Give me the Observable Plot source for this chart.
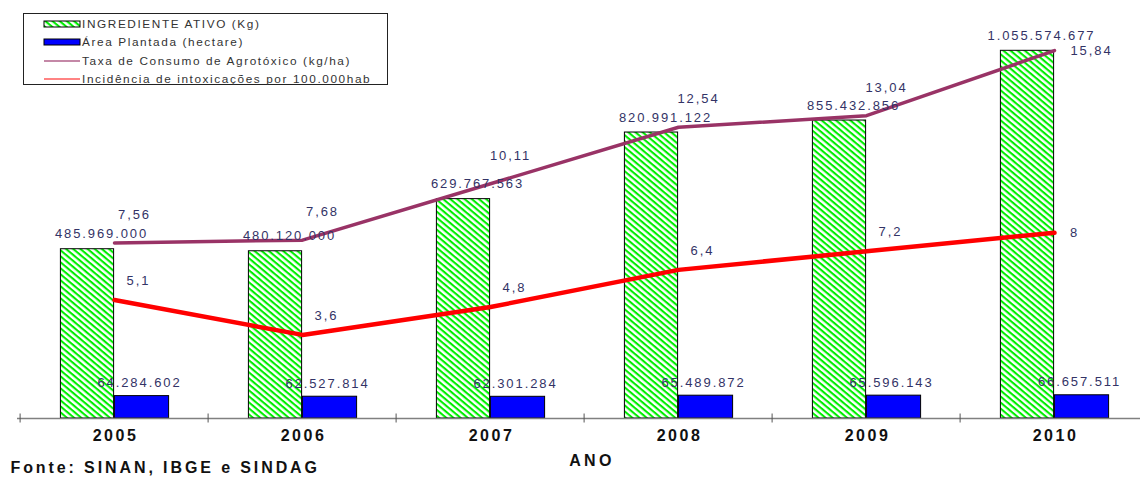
<!DOCTYPE html>
<html><head><meta charset="utf-8">
<script src="https://cdn.jsdelivr.net/npm/d3@7"></script>
<script src="https://cdn.jsdelivr.net/npm/@observablehq/plot@0.6"></script>
<style>
body{margin:0;background:#fff;font-family:"Liberation Sans",Arial,sans-serif}
#wrap{position:relative;width:1140px;height:478px;overflow:hidden}
#legend{position:absolute;left:23px;top:13px}
#legend text{letter-spacing:1.6px}
</style></head>
<body><div id="wrap"></div>
<script>
const years = ["2005", "2006", "2007", "2008", "2009", "2010"];
const ingrediente = [485969000, 480120000, 629767563, 820991122, 855432856, 1055574677];
const areaPlantada = [64284602, 62527814, 62301284, 65489872, 65596143, 66657511];
const taxaConsumo = [7.56, 7.68, 10.11, 12.54, 13.04, 15.84];
const incidencia = [5.1, 3.6, 4.8, 6.4, 7.2, 8];
const legendLabels = ["INGREDIENTE ATIVO (Kg)", "Área Plantada (hectare)", "Taxa de Consumo de Agrotóxico (kg/ha)", "Incidência de intoxicações por 100.000hab"];

const barMax = 1.2e9;   // left (bar) axis maximum
const lineMax = 18;     // right (line) axis maximum
const f = barMax / lineMax;

const pt = d3.formatLocale({decimal: ",", thousands: ".", grouping: [3], currency: ["", ""]});
const fmtInt = pt.format(",d");
const fmt2 = pt.format(",.2f");
const fmtG = pt.format("~g");

const rows = years.map((y, i) => ({year: y, ingr: ingrediente[i], area: areaPlantada[i], taxa: taxaConsumo[i], inc: incidencia[i]}));
const last = rows.length - 1;
const notLast = (d, i) => i < last;
const isLast = (d, i) => i === last;

const bw = 188.8;
const half = bw / 2;
const labelColor = "#333366";

const defsMark = () => {
  const ns = "http://www.w3.org/2000/svg";
  const defs = document.createElementNS(ns, "defs");
  defs.innerHTML = `<pattern id="hatch" patternUnits="userSpaceOnUse" width="4.6" height="4.6" patternTransform="rotate(40)"><rect width="4.6" height="4.6" fill="#fff"/><rect width="4.6" height="2.1" fill="#00ee00"/></pattern>`;
  return defs;
};

const chart = Plot.plot({
  width: 1140,
  height: 478,
  marginLeft: 17,
  marginRight: 0,
  marginTop: 0,
  marginBottom: 60,
  style: {fontFamily: "'Liberation Sans', Arial, sans-serif", background: "#fff"},
  x: {type: "band", domain: years, range: [17.5, 17.5 + 6 * bw], padding: 0, axis: null},
  y: {domain: [0, barMax], axis: null},
  marks: [
    defsMark,
    Plot.barY(rows, {x: "year", y: "ingr", fill: "url(#hatch)", stroke: "#000", strokeWidth: 1, insetLeft: half - 54, insetRight: half}),
    Plot.barY(rows, {x: "year", y: "area", fill: "#0000ff", stroke: "#000", strokeWidth: 1, insetLeft: half, insetRight: half - 55}),
    Plot.ruleY([0], {stroke: "#808080", strokeWidth: 1.5}),
    Plot.axisX({anchor: "bottom", tickSize: 9, dy: -4.5, dx: -half, tickFormat: () => "", label: null, stroke: "#555"}),
    Plot.line(rows, {x: "year", y: d => d.taxa * f, stroke: "#993366", strokeWidth: 3.5}),
    Plot.line(rows, {x: "year", y: d => d.inc * f, stroke: "#ff0000", strokeWidth: 4.5}),
    Plot.text(rows, {x: "year", y: "ingr", text: d => fmtInt(d.ingr), dx: -13, dy: -15, fontSize: 13, fill: labelColor}),
    Plot.text(rows, {x: "year", y: "area", text: d => fmtInt(d.area), dx: 25, dy: -13, fontSize: 13, fill: labelColor}),
    Plot.text(rows, {filter: notLast, x: "year", y: d => d.taxa * f, text: d => fmt2(d.taxa), dx: 20, dy: -28, fontSize: 13, fill: labelColor}),
    Plot.text(rows, {filter: notLast, x: "year", y: d => d.inc * f, text: d => fmtG(d.inc), dx: 24, dy: -19, fontSize: 13, fill: labelColor}),
    Plot.text(rows, {filter: isLast, x: "year", y: d => d.taxa * f, text: d => fmt2(d.taxa), dx: 37, dy: 0, fontSize: 13, fill: labelColor}),
    Plot.text(rows, {filter: isLast, x: "year", y: d => d.inc * f, text: d => fmtG(d.inc), dx: 20, dy: 0, fontSize: 13, fill: labelColor}),
    Plot.text(years, {x: d => d, frameAnchor: "bottom", dy: 22, text: d => d, fontSize: 16, fontWeight: "bold", fill: "#111", dx: 1}),
    Plot.text(["ANO"], {frameAnchor: "bottom", dy: 47, dx: 13, fontSize: 16, fontWeight: "bold", fill: "#111"}),
    Plot.text(["Fonte: SINAN, IBGE e SINDAG"], {frameAnchor: "bottom-left", textAnchor: "start", dy: 54, dx: -7, fontSize: 16, fontWeight: "bold", fill: "#111"})
  ]
});

// letter spacing of the text marks, in mark order
const spacing = [1.9, 1.9, 1.9, 1.9, 1.9, 1.9, 2.5, 3.3, 2.9];
chart.querySelectorAll('g[aria-label="text"]').forEach((g, i) => {
  if (spacing[i] != null) g.setAttribute("letter-spacing", spacing[i]);
});

const wrap = document.getElementById("wrap");
wrap.appendChild(chart);

// legend
const lg = d3.create("svg").attr("id", "legend").attr("width", 366).attr("height", 73)
  .style("font-family", "'Liberation Sans', Arial, sans-serif");
lg.append("rect").attr("x", 0.5).attr("y", 0.5).attr("width", 364).attr("height", 71).attr("fill", "#fff").attr("stroke", "#222");
const rowsY = [11, 29, 48, 66];
lg.append("rect").attr("x", 21).attr("y", rowsY[0] - 3).attr("width", 36).attr("height", 6).attr("fill", "url(#hatch)").attr("stroke", "#000");
lg.append("rect").attr("x", 21).attr("y", rowsY[1] - 3).attr("width", 36).attr("height", 6).attr("fill", "#0000ff").attr("stroke", "#000");
lg.append("line").attr("x1", 21).attr("x2", 57).attr("y1", rowsY[2]).attr("y2", rowsY[2]).attr("stroke", "#b0608a").attr("stroke-width", 1.3);
lg.append("line").attr("x1", 21).attr("x2", 57).attr("y1", rowsY[3]).attr("y2", rowsY[3]).attr("stroke", "#ff5a5a").attr("stroke-width", 1.5);
legendLabels.forEach((t, i) => {
  lg.append("text").attr("x", 59).attr("y", rowsY[i]).attr("dy", "0.35em").attr("font-size", 11.8).attr("fill", "#333").text(t);
});
wrap.appendChild(lg.node());
</script>
</body></html>
